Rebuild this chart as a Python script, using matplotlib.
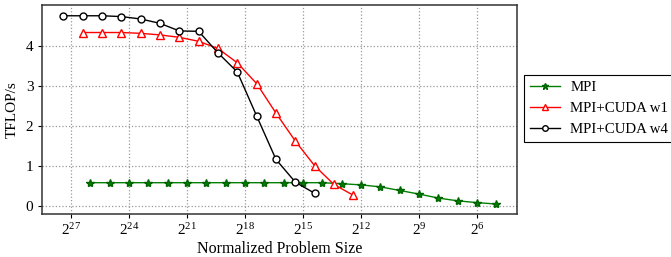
"""TFLOP/s vs normalized problem size"""

import matplotlib
matplotlib.use("Agg")
import matplotlib.pyplot as plt
from matplotlib.ticker import FixedLocator, NullLocator, LogFormatterMathtext

plt.rcParams["font.family"] = ["Liberation Serif", "DejaVu Serif"]
plt.rcParams["mathtext.fontset"] = "stix"
plt.rcParams["font.size"] = 11

# log2 of the normalized problem size for each series
mpi_exp = [26, 25, 24, 23, 22, 21, 20, 19, 18, 17, 16, 15, 14, 13, 12, 11, 10, 9, 8, 7, 6, 5]
mpi_tflops = [0.575, 0.575, 0.575, 0.575, 0.575, 0.575, 0.575, 0.575, 0.575, 0.575, 0.575,
              0.575, 0.575, 0.55, 0.52, 0.47, 0.38, 0.29, 0.19, 0.12, 0.075, 0.04]

w1_exp = [26.4, 25.4, 24.4, 23.4, 22.4, 21.4, 20.4, 19.4, 18.4, 17.4, 16.4, 15.4, 14.4, 13.4, 12.4]
w1_tflops = [4.34, 4.34, 4.34, 4.32, 4.28, 4.22, 4.12, 3.94, 3.58, 3.06, 2.32, 1.62, 1.0, 0.53, 0.26]

w4_exp = [27.4, 26.4, 25.4, 24.4, 23.4, 22.4, 21.4, 20.4, 19.4, 18.4, 17.4, 16.4, 15.4, 14.4]
w4_tflops = [4.76, 4.76, 4.76, 4.74, 4.68, 4.57, 4.38, 4.37, 3.83, 3.35, 2.25, 1.16, 0.59, 0.31]

tick_exp = [27, 24, 21, 18, 15, 12, 9, 6]

fig = plt.figure(figsize=(6.71, 2.57), dpi=100)
ax = fig.add_axes([0.0621, 0.1673, 0.7084, 0.8117])

ax.plot([2.0 ** e for e in mpi_exp], mpi_tflops, color="green", marker="*", markersize=6,
        markerfacecolor="green", markeredgecolor="darkgreen", linewidth=1.0, label="MPI")
ax.plot([2.0 ** e for e in w1_exp], w1_tflops, color="red", marker="^", markersize=5.5,
        markerfacecolor="white", markeredgecolor="red", linewidth=1.0, label="MPI+CUDA w1")
ax.plot([2.0 ** e for e in w4_exp], w4_tflops, color="black", marker="o", markersize=5,
        markerfacecolor="white", markeredgecolor="black", linewidth=1.0, label="MPI+CUDA w4")

ax.set_xscale("log", base=2)
ax.set_xlim(2.0 ** 28.52, 2.0 ** 3.93)
ax.xaxis.set_major_locator(FixedLocator([2.0 ** e for e in tick_exp]))
ax.xaxis.set_major_formatter(LogFormatterMathtext(base=2))
ax.xaxis.set_minor_locator(NullLocator())
ax.set_ylim(-0.21, 5.02)
ax.set_yticks([0, 1, 2, 3, 4])

ax.grid(True, linestyle=":", color="#999999", linewidth=0.9)
ax.tick_params(direction="out", length=3, top=False, right=False, labelsize=11, pad=3)
for s in ax.spines.values():
    s.set_color("#333333")
    s.set_linewidth(1.1)

ax.set_xlabel("Normalized Problem Size", fontsize=11.5, labelpad=2)
ax.set_ylabel("TFLOP/s", fontsize=11)
ax.yaxis.set_label_coords(-0.048, 0.5)

leg = fig.legend(loc="upper left", bbox_to_anchor=(524.3 / 671, 1 - 74.7 / 257),
                 fancybox=False, edgecolor="black", framealpha=1, fontsize=10.7,
                 handlelength=2.0, handletextpad=0.7, borderpad=0.4,
                 borderaxespad=0, markerscale=0.8)
leg.get_frame().set_linewidth(0.8)

fig.savefig("out.png", dpi=100)
